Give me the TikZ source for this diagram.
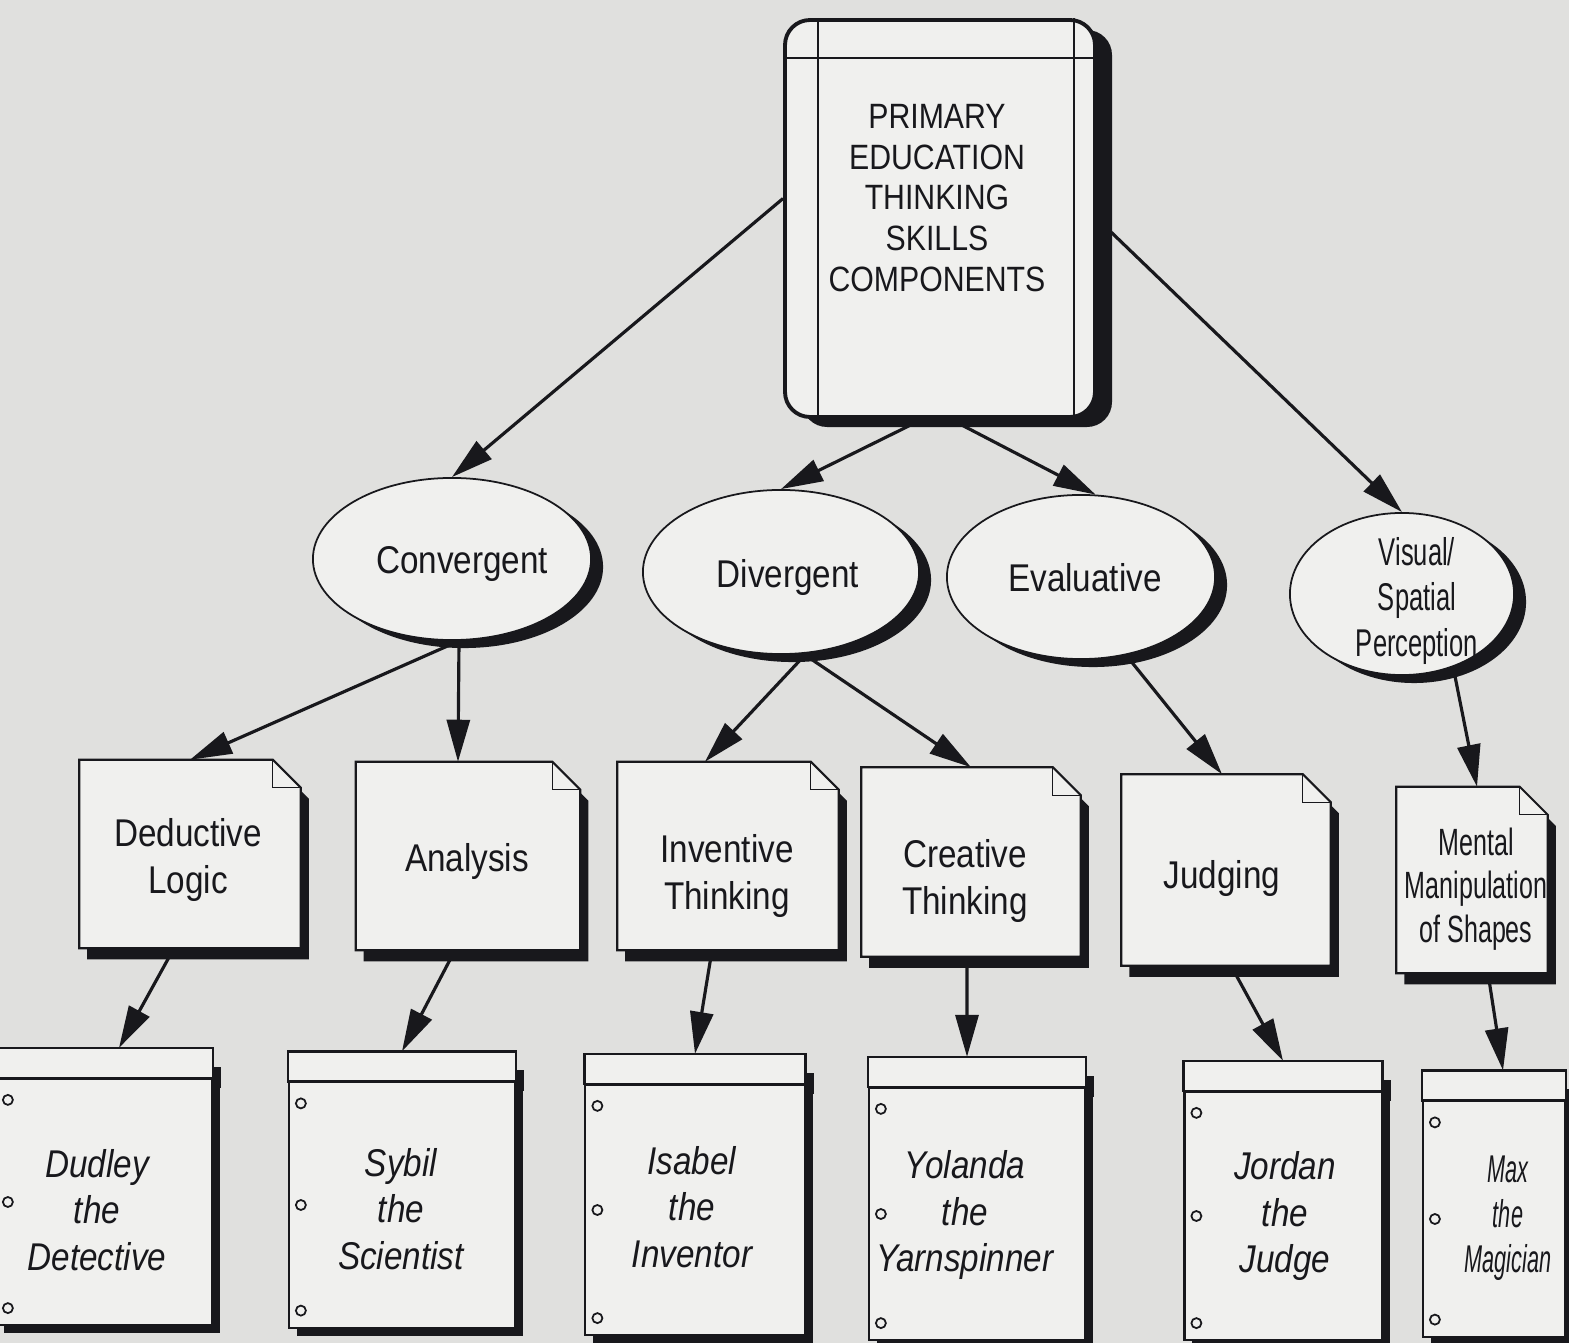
\documentclass[tikz,border=0pt]{standalone}
\usepackage{fontspec}
\setmainfont{Liberation Sans}[FakeStretch=0.86]
\newfontfamily\narrowfont{Liberation Sans}[FakeStretch=0.66]
\newfontfamily\slimfont{Liberation Sans}[FakeStretch=0.56]
\usetikzlibrary{arrows.meta}
\usetikzlibrary{positioning}
\usetikzlibrary{shapes.geometric}
\usetikzlibrary{shadows}
\usetikzlibrary{backgrounds}
\usetikzlibrary{fit}

\definecolor{bg}{RGB}{224,224,222}
\definecolor{paper}{RGB}{240,240,238}
\definecolor{ink}{RGB}{24,24,28}

\begin{document}
\begin{tikzpicture}[x=0.01cm, y=-0.01cm,
    txt/.style={font=\fontsize{11}{13.2}\selectfont, align=center, text=ink},
    topbox/.style={draw=ink, line width=1.1pt, fill=paper, rounded corners=2.5mm, inner sep=0pt,
        drop shadow={shadow xshift=1.7mm, shadow yshift=-1mm, fill=ink, opacity=1}},
    blob/.style={ellipse, draw=ink, line width=.5pt, fill=paper, inner sep=0pt, txt,
        drop shadow={shadow xshift=1.2mm, shadow yshift=-.8mm, fill=ink, opacity=1}},
    notebox/.style={rectangle, inner sep=0pt},
    pagebox/.style={rectangle, draw=ink, line width=.6pt, fill=paper, inner sep=0pt, txt,
        font=\fontsize{11}{13.3}\selectfont\itshape,
        drop shadow={shadow xshift=.8mm, shadow yshift=-.8mm, fill=ink, opacity=1}},
    arr/.style={ink, line width=.9pt, -{Triangle[length=4.2mm, width=2.3mm]}}]

    \useasboundingbox (0,0) rectangle (1569,1343);
    \begin{scope}[on background layer]
        \fill[bg] (0,0) rectangle (1569,1343);
    \end{scope}

    % top box
    \node[topbox, fit={(785,20) (1095,417)}] (top) {};
    \node[txt, font=\fontsize{10}{11.6}\selectfont] (title) at (937,198)
        {PRIMARY\\EDUCATION\\THINKING\\SKILLS\\COMPONENTS};
    \draw[ink, line width=.5pt]
        ([xshift=3.5mm]top.north west) -- ([xshift=3.5mm]top.south west)
        ([xshift=-2.3mm]top.north east) -- ([xshift=-2.3mm]top.south east)
        ([yshift=-4mm]top.north west) -- ([yshift=-4mm]top.north east);

    % ellipses
    \node[blob, minimum width=2.78cm, minimum height=1.62cm] (conv) at (452,559) {};
    \node[txt] (convtext) at (462,564) {Convergent};
    \node[blob, minimum width=2.76cm, minimum height=1.64cm] (div) at (781,572) {};
    \node[txt] (divtext) at (788,577) {Divergent};
    \node[blob, minimum width=2.68cm, minimum height=1.64cm] (eval) at (1081,577) {};
    \node[txt] (evaltext) at (1085,578) {Evaluative};
    \node[blob, minimum width=2.24cm, minimum height=1.62cm] (vis) at (1402,594) {};
    \node[txt, font=\fontsize{11}{12.8}\selectfont\narrowfont] (vistext) at (1417,601)
        {Visual/\\Spatial\\Perception};

    % skill boxes
    \node[notebox, minimum width=2.2cm, minimum height=1.87cm] (ded) at (190,854) {};
    \node[notebox, minimum width=2.23cm, minimum height=1.87cm] (ana) at (468,856) {};
    \node[notebox, minimum width=2.2cm, minimum height=1.87cm] (inv) at (728,856) {};
    \node[notebox, minimum width=2.18cm, minimum height=1.88cm] (cre) at (971,862) {};
    \node[notebox, minimum width=2.08cm, minimum height=1.9cm] (jud) at (1226,870) {};
    \node[notebox, minimum width=1.5cm, minimum height=1.85cm] (men) at (1472,880) {};

    \foreach \n in {ded,ana,inv,cre,jud,men}{
        \begin{scope}[on background layer]
            \fill[ink] ([shift={(.8mm,-1.1mm)}]\n.north west) -- ([shift={(-2mm,-1.1mm)}]\n.north east)
                -- ([shift={(.8mm,-3.9mm)}]\n.north east) -- ([shift={(.8mm,-1.1mm)}]\n.south east)
                -- ([shift={(.8mm,-1.1mm)}]\n.south west) -- cycle;
            \filldraw[fill=paper, draw=ink, line width=.6pt] (\n.north west) -- ([xshift=-2.8mm]\n.north east)
                -- ([yshift=-2.8mm]\n.north east) -- (\n.south east) -- (\n.south west) -- cycle;
        \end{scope}
        \draw[ink, line width=.4pt] ([xshift=-2.8mm]\n.north east) -- ([shift={(-2.8mm,-2.8mm)}]\n.north east)
            -- ([yshift=-2.8mm]\n.north east);
    }

    \node[txt] (dedtext) at (188,860) {Deductive\\Logic};
    \node[txt] (anatext) at (467,861) {Analysis};
    \node[txt] (invtext) at (727,876) {Inventive\\Thinking};
    \node[txt] (cretext) at (965,881) {Creative\\Thinking};
    \node[txt] (judtext) at (1222,878) {Judging};
    \node[txt, font=\fontsize{10.8}{12.3}\selectfont\narrowfont] (mentext) at (1476,889)
        {Mental\\Manipulation\\of Shapes};

    % characters
    \node[pagebox, minimum width=2.16cm, minimum height=2.46cm] (dudley) at (104,1202) {};
    \node[pagebox, minimum width=2.26cm, minimum height=2.45cm] (sybil) at (402,1205) {};
    \node[pagebox, minimum width=2.19cm, minimum height=2.5cm] (isabel) at (695,1210) {};
    \node[pagebox, minimum width=2.16cm, minimum height=2.52cm] (yolanda) at (977,1214) {};
    \node[pagebox, minimum width=1.97cm, minimum height=2.48cm] (jordan) at (1283,1216) {};
    \node[pagebox, minimum width=1.42cm, minimum height=2.35cm] (magician) at (1494,1219) {};

    \foreach \n in {dudley,sybil,isabel,yolanda,jordan,magician}{
        \fill[ink] ([yshift=1.1mm]\n.north east) rectangle ([shift={(.8mm,-1mm)}]\n.north east);
        \filldraw[fill=paper, draw=ink, line width=.7pt] (\n.north west) rectangle ([yshift=3mm]\n.north east);
        \draw[ink, line width=.5pt] ([shift={(1.3mm,-2.2mm)}]\n.north west) circle[radius=.5mm]
            ([xshift=1.3mm]\n.west) circle[radius=.5mm]
            ([shift={(1.3mm,1.8mm)}]\n.south west) circle[radius=.5mm];
    }

    \node[txt, font=\fontsize{11}{13.3}\selectfont\itshape] (dudleytext) at (97,1210) {Dudley\\the\\Detective};
    \node[txt, font=\fontsize{11}{13.3}\selectfont\itshape] (sybiltext) at (401,1209) {Sybil\\the\\Scientist};
    \node[txt, font=\fontsize{11}{13.3}\selectfont\itshape] (isabeltext) at (692,1207) {Isabel\\the\\Inventor};
    \node[txt, font=\fontsize{11}{13.3}\selectfont\itshape] (yolandatext) at (965,1215) {Yolanda\\the\\Yarnspinner};
    \node[txt, font=\fontsize{11}{13.3}\selectfont\itshape] (jordantext) at (1285,1216) {Jordan\\the\\Judge};
    \node[txt, font=\fontsize{11}{12.8}\selectfont\slimfont\itshape] (magiciantext) at (1508,1218) {Max\\the\\Magician};

    \path[arr]
        ([yshift=2mm]top.west) edge (conv.north)
        ([xshift=-1.7mm]top.south) edge (div.north)
        ([xshift=1mm]top.south) edge (eval.80)
        (top.east) edge (vis.north)
        ([xshift=.7mm]conv.south) edge (ded.north)
        ([xshift=.7mm]conv.south) edge ([xshift=-1mm]ana.north)
        ([xshift=2.4mm]div.south) edge ([xshift=-2.3mm]inv.north)
        ([xshift=2.4mm]div.south) edge (cre.north)
        (eval.-60) edge ([xshift=-.4mm]jud.north)
        (vis.-55) edge ([xshift=.5mm]men.north);
    \path[arr]
        ([xshift=-1.6mm]ded.south) edge ([xshift=1.5mm,yshift=3mm]dudley.north)
        ([xshift=-1.3mm]ana.south) edge ([yshift=3mm]sybil.north)
        ([xshift=-1.6mm]inv.south) edge ([yshift=3mm]isabel.north)
        ([xshift=-.4mm]cre.south) edge ([xshift=-1mm,yshift=3mm]yolanda.north)
        ([xshift=.5mm]jud.south) edge ([yshift=3mm]jordan.north)
        ([xshift=1.6mm]men.south) edge ([xshift=.9mm,yshift=3mm]magician.north);
\end{tikzpicture}
\end{document}
